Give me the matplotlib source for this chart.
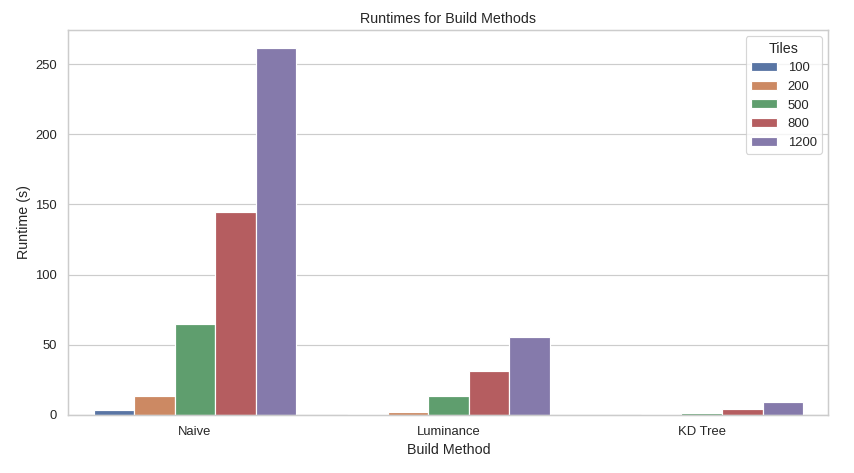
import matplotlib
matplotlib.use("Agg")
import matplotlib.pyplot as plt
import seaborn as sns
import pandas as pd

methods = ["Naive", "Luminance", "KD Tree"]
tiles = [100, 200, 500, 800, 1200]
naive = [3.5, 13.5, 64.5, 144.5, 261.5]
luminance = [0.3, 2.2, 13.5, 31, 55.5]
kdtree = [0.1, 0.4, 1.5, 4.5, 9]

rows = []
for m, vals in zip(methods, [naive, luminance, kdtree]):
    for t, v in zip(tiles, vals):
        rows.append({"Build Method": m, "Tiles": t, "Runtime (s)": v})
df = pd.DataFrame(rows)

sns.set_theme(style="whitegrid")
plt.rcParams['font.family'] = ['Liberation Sans', 'DejaVu Sans']
fig, ax = plt.subplots(figsize=(10, 5.539), dpi=85.4)
sns.barplot(data=df, x="Build Method", y="Runtime (s)", hue="Tiles", palette="deep", ax=ax)
ax.set_title("Runtimes for Build Methods")
ax.legend(title="Tiles", loc="upper right")
fig.subplots_adjust(left=0.08, right=0.97, top=0.937, bottom=0.123)
fig.savefig("out.png")
